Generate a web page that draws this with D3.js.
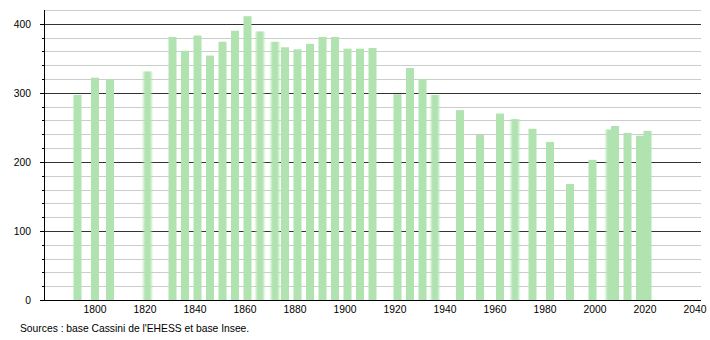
<!DOCTYPE html>
<html>
<head>
<meta charset="utf-8">
<script src="https://cdn.jsdelivr.net/npm/d3@7"></script>
<style>
  body { margin: 0; background: #fff; }
  svg text { font-family: "Liberation Sans", Arial, sans-serif; font-size: 10.3px; fill: #000; }
</style>
</head>
<body>
<svg id="chart" width="710" height="340"></svg>
<script>
// années des recensements
var years = [1793, 1800, 1806, 1821, 1831, 1836, 1841, 1846, 1851, 1856,
  1861, 1866, 1872, 1876, 1881, 1886, 1891, 1896, 1901, 1906,
  1911, 1921, 1926, 1931, 1936, 1946, 1954, 1962, 1968, 1975,
  1982, 1990, 1999, 2006, 2008, 2013, 2018, 2021];
// population
var population = [297, 322, 320, 331, 381, 361, 383, 354, 374, 390,
  411, 389, 374, 366, 363, 371, 381, 381, 364, 364,
  365, 298, 336, 320, 297, 275, 239, 270, 262, 248,
  229, 168, 203, 247, 252, 242, 238, 245];
var xTicks = [1800, 1820, 1840, 1860, 1880, 1900, 1920, 1940, 1960, 1980, 2000, 2020, 2040];
var yMajorTicks = [0, 100, 200, 300, 400];
var yMinorTicks = d3.range(20, 440, 20);
var sourceText = "Sources : base Cassini de l'EHESS et base Insee.";

var data = years.map((y, i) => ({ year: y, value: population[i] }));

var svg = d3.select("#chart");
var plotLeft = 44, plotRight = 701, plotTop = 10, plotBottom = 300;

var x = d3.scaleLinear().domain([1779.6, 2042.4]).range([plotLeft, plotRight]);
var y = d3.scaleLinear().domain([0, 420]).range([plotBottom, plotTop]);
var barWidth = 8;

// barres floues (effet du redimensionnement de l'image d'origine)
var blurred = [1821, 1866, 1872, 1936, 1968, 2006];
var defs = svg.append("defs");
defs.append("filter").attr("id", "blurX")
  .attr("x", "-50%").attr("width", "200%")
  .append("feGaussianBlur").attr("stdDeviation", "1.3 0");

// grille secondaire
svg.append("g").selectAll("line")
  .data(yMinorTicks.filter((d) => d % 100 != 0 || d > 400))
  .enter().append("line")
  .attr("x1", plotLeft).attr("x2", plotRight)
  .attr("y1", (d) => Math.round(y(d)) + 0.5)
  .attr("y2", (d) => Math.round(y(d)) + 0.5)
  .attr("stroke", "#cccccc");

// grille principale
svg.append("g").selectAll("line")
  .data(yMajorTicks.filter((d) => d > 0))
  .enter().append("line")
  .attr("x1", plotLeft).attr("x2", plotRight)
  .attr("y1", (d) => Math.round(y(d)) + 0.5)
  .attr("y2", (d) => Math.round(y(d)) + 0.5)
  .attr("stroke", "#333333");

// barres
svg.append("g").selectAll("rect")
  .data(data)
  .enter().append("rect")
  .attr("x", (d) => x(d.year) - barWidth / 2)
  .attr("width", barWidth)
  .attr("y", (d) => y(d.value))
  .attr("height", (d) => y(0) - y(d.value))
  .attr("fill", "#b0e3b0")
  .attr("filter", (d) => blurred.indexOf(d.year) >= 0 ? "url(#blurX)" : null);

// axe Y
var yAxis = svg.append("g");
yAxis.append("line")
  .attr("x1", plotLeft + 0.5).attr("x2", plotLeft + 0.5)
  .attr("y1", plotTop).attr("y2", plotBottom)
  .attr("stroke", "#000");
yAxis.selectAll(".minor")
  .data(yMinorTicks.filter((d) => d % 100 != 0 && d < 420))
  .enter().append("line")
  .attr("x1", plotLeft - 2).attr("x2", plotLeft)
  .attr("y1", (d) => Math.round(y(d)) + 0.5)
  .attr("y2", (d) => Math.round(y(d)) + 0.5)
  .attr("stroke", "#000");
yAxis.selectAll(".major")
  .data(yMajorTicks)
  .enter().append("line")
  .attr("x1", plotLeft - 4).attr("x2", plotLeft)
  .attr("y1", (d) => Math.round(y(d)) + 0.5)
  .attr("y2", (d) => Math.round(y(d)) + 0.5)
  .attr("stroke", "#000");
yAxis.selectAll("text")
  .data(yMajorTicks)
  .enter().append("text")
  .attr("x", 31)
  .attr("y", (d) => y(d) + 4)
  .attr("text-anchor", "end")
  .text((d) => d);

// axe X
svg.append("line")
  .attr("x1", plotLeft - 4).attr("x2", plotRight)
  .attr("y1", plotBottom + 0.5).attr("y2", plotBottom + 0.5)
  .attr("stroke", "#000");
svg.append("g").selectAll("text")
  .data(xTicks)
  .enter().append("text")
  .attr("x", (d) => x(d))
  .attr("y", 313)
  .attr("text-anchor", "middle")
  .text((d) => d);

// source
svg.append("text")
  .attr("x", 20)
  .attr("y", 332)
  .text(sourceText);
</script>
</body>
</html>
